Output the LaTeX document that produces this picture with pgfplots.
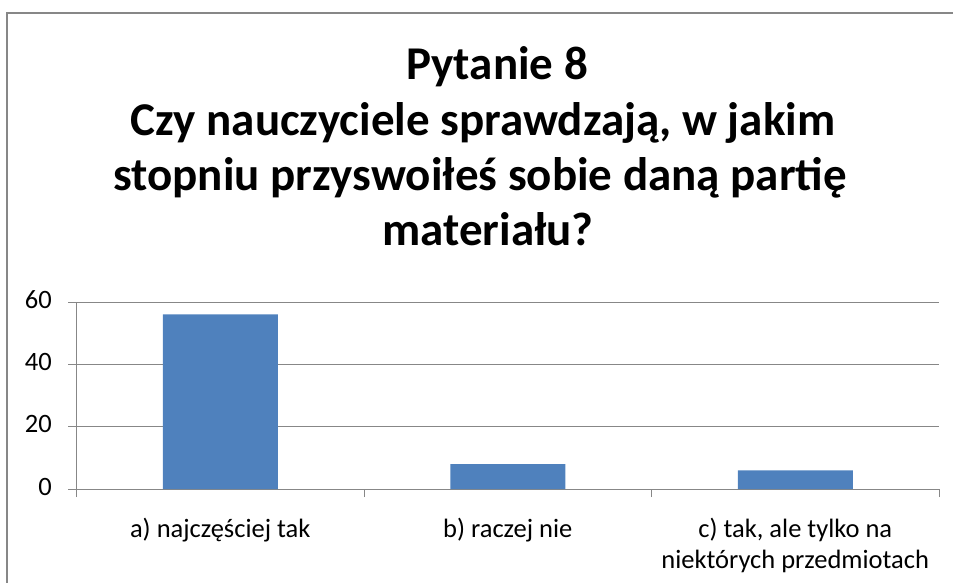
\documentclass[border=0pt]{standalone}
\usepackage{pgfplots}
\pgfplotsset{compat=1.18}
\usepackage{fontspec}
\setmainfont{Carlito}
\definecolor{barblue}{HTML}{4F81BD}
\definecolor{linegray}{HTML}{878787}
\begin{document}
\begin{tikzpicture}
\begin{axis}[
  at={(76.5pt,-489pt)}, anchor=south west,
  scale only axis, width=862.5pt, height=187pt,
  xmin=-0.5, xmax=2.5, ymin=0, ymax=60,
  axis x line=bottom, axis y line=left,
  axis line style={-, draw=linegray, line width=1pt},
  ytick={0,20,40,60},
  ymajorgrids, grid style={draw=linegray, line width=1pt},
  tick align=outside,
  major tick length=8pt,
  ytick style={draw=linegray, line width=1pt},
  xtick={0,1,2},
  xticklabels={a) najczęściej tak, b) raczej nie, {c) tak, ale tylko na\\niektórych przedmiotach}},
  xtick style={draw=none},
  minor xtick={-0.5,0.5,1.5,2.5},
  minor tick length=8pt,
  minor x tick style={draw=linegray, line width=1pt},
  /pgf/number format/assume math mode=true,
  yticklabel style={font=\fontsize{26.5}{31}\selectfont, anchor=east, inner sep=0pt, xshift=-16.5pt},
  xticklabel style={font=\fontsize{26.5}{31}\selectfont, align=center, anchor=north, inner sep=0pt, yshift=-19pt},
  typeset ticklabels with strut=false,
  clip=false,
]
\addplot[ybar, bar width=0.4, fill=barblue, draw=none] coordinates {(0,56) (1,8) (2,6)};
\end{axis}
\draw[linegray, line width=1.2pt] (7pt,-600pt) -- (7pt,-13pt) -- (970pt,-13pt);
\begin{scope}[every node/.style={anchor=base, inner sep=0pt, font=\fontsize{47}{55}\selectfont\bfseries}]
\node at (497pt,-80pt) {Pytanie 8};
\node at (483pt,-135.3pt) {Czy nauczyciele sprawdzają, w jakim};
\node at (480pt,-190.6pt) {stopniu przyswoiłeś sobie daną partię};
\node at (488pt,-245.9pt) {materiału?};
\end{scope}
\pgfresetboundingbox
\path[use as bounding box] (0,0) rectangle (953pt,-583pt);
\end{tikzpicture}
\end{document}
